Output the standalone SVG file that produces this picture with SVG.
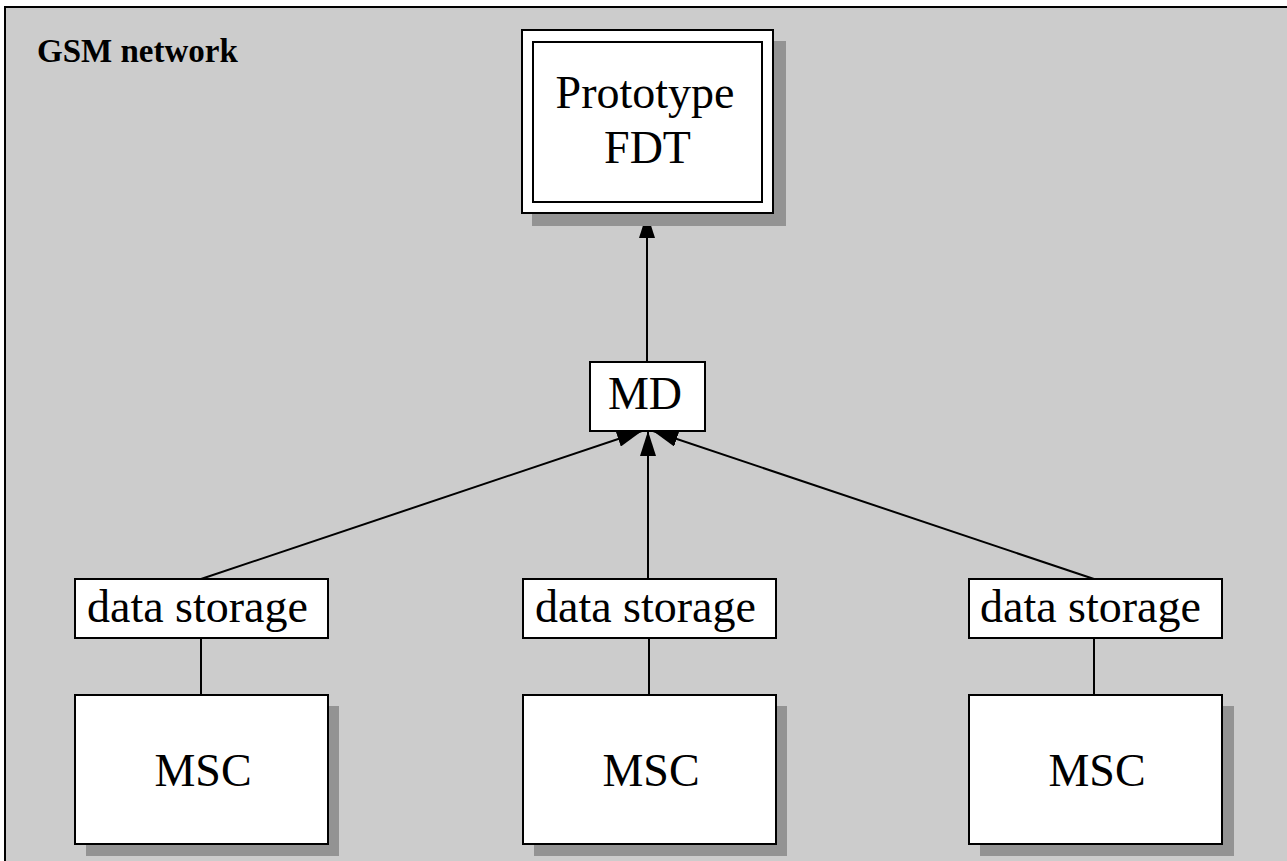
<svg xmlns="http://www.w3.org/2000/svg" width="1287" height="861" viewBox="0 0 1287 861">
  <style>
    .frame { fill: #cccccc; stroke: #000000; stroke-width: 2; }
    .box { fill: #ffffff; stroke: #000000; stroke-width: 2; }
    .shadow { fill: #939393; stroke: none; }
    .edge { fill: none; stroke: #000000; stroke-width: 2; }
    .label { font-family: "Liberation Serif", "Times New Roman", serif; font-size: 46px; fill: #000000; }
    .title { font-family: "Liberation Serif", "Times New Roman", serif; font-size: 33px; font-weight: bold; fill: #000000; }
  </style>
  <defs>
    <marker id="arrow" markerUnits="userSpaceOnUse" viewBox="0 0 25 16" refX="25" refY="8" markerWidth="25" markerHeight="16" orient="auto">
      <path d="M0,0 L25,8 L0,16 z" fill="#000000"/>
    </marker>
  </defs>

  <!-- enclosing network boundary -->
  <g id="gsm-network">
    <rect class="frame" x="5" y="7" width="1300" height="880"/>
    <text class="title" x="37" y="62">GSM network</text>
  </g>

  <!-- connectors -->
  <g id="connectors">
    <line class="edge" x1="647" y1="362" x2="647" y2="213" marker-end="url(#arrow)"/>
    <line class="edge" x1="201" y1="579" x2="642" y2="431" marker-end="url(#arrow)"/>
    <line class="edge" x1="648" y1="579" x2="648" y2="431" marker-end="url(#arrow)"/>
    <line class="edge" x1="1094" y1="579" x2="653" y2="431" marker-end="url(#arrow)"/>
    <line class="edge" x1="201" y1="638" x2="201" y2="695"/>
    <line class="edge" x1="649" y1="638" x2="649" y2="695"/>
    <line class="edge" x1="1094" y1="638" x2="1094" y2="695"/>
  </g>

  <!-- prototype FDT -->
  <g id="prototype-fdt">
    <rect class="shadow" x="532" y="41" width="254" height="185"/>
    <rect class="box" x="522" y="30" width="251" height="183"/>
    <rect class="box" x="533" y="42" width="229" height="160"/>
    <text class="label" x="645" y="108" text-anchor="middle">Prototype</text>
    <text class="label" x="647.5" y="163" text-anchor="middle">FDT</text>
  </g>

  <!-- MD -->
  <g id="md">
    <rect class="box" x="590" y="362" width="115" height="69"/>
    <text class="label" x="645" y="409" text-anchor="middle">MD</text>
  </g>

  <!-- data storage nodes -->
  <g id="data-storage-1">
    <rect class="box" x="75" y="579" width="253" height="59"/>
    <text class="label" x="87" y="622">data storage</text>
  </g>
  <g id="data-storage-2">
    <rect class="box" x="523" y="579" width="253" height="59"/>
    <text class="label" x="535" y="622">data storage</text>
  </g>
  <g id="data-storage-3">
    <rect class="box" x="969" y="579" width="253" height="59"/>
    <text class="label" x="980" y="622">data storage</text>
  </g>

  <!-- MSC nodes -->
  <g id="msc-1">
    <rect class="shadow" x="86" y="706" width="253" height="150"/>
    <rect class="box" x="75" y="695" width="253" height="149"/>
    <text class="label" x="203" y="786" text-anchor="middle">MSC</text>
  </g>
  <g id="msc-2">
    <rect class="shadow" x="534" y="706" width="253" height="150"/>
    <rect class="box" x="523" y="695" width="253" height="149"/>
    <text class="label" x="651" y="786" text-anchor="middle">MSC</text>
  </g>
  <g id="msc-3">
    <rect class="shadow" x="980" y="706" width="254" height="150"/>
    <rect class="box" x="969" y="695" width="253" height="149"/>
    <text class="label" x="1097" y="786" text-anchor="middle">MSC</text>
  </g>
</svg>
